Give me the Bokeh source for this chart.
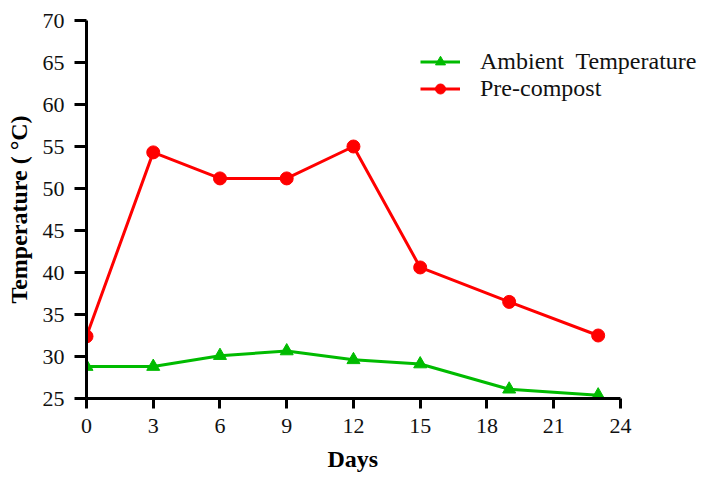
from bokeh.plotting import figure
from bokeh.models import Range1d, Legend, LegendItem, FixedTicker, Title
from bokeh.embed import file_html
from bokeh.resources import INLINE

days = [0, 3, 6, 9, 12, 15, 19, 23]
ambient = [28.8, 28.8, 30.1, 30.65, 29.6, 29.1, 26.1, 25.4]
precompost = [32.4, 54.3, 51.2, 51.2, 55.0, 40.6, 36.5, 32.5]
x_ticks = [0, 3, 6, 9, 12, 15, 18, 21, 24]
y_ticks = [25, 30, 35, 40, 45, 50, 55, 60, 65, 70]

FONT = "Liberation Serif"
GREEN = "#00bb00"
RED = "#ff0000"

# frame: px 86..704 horizontally (x=24 at px 620), 20..398 vertically
p = figure(width=704, height=479, output_backend="svg", toolbar_location=None,
           x_range=Range1d(0, 27.78), y_range=Range1d(25, 70),
           min_border_left=86, min_border_right=0, min_border_top=20, min_border_bottom=81)
p.outline_line_color = None
p.grid.grid_line_color = None
p.background_fill_color = "white"

for ax in (p.xaxis[0], p.yaxis[0]):
    ax.axis_line_width = 3
    ax.axis_line_color = "black"
    ax.major_tick_line_width = 3
    ax.major_tick_line_color = "black"
    ax.major_tick_in = 0
    ax.minor_tick_line_color = None
    ax.major_label_text_font = FONT
    ax.major_label_text_font_size = "22px"
    ax.major_label_text_color = "#111111"
    ax.axis_label_text_font = FONT
    ax.axis_label_text_font_style = "bold"
    ax.axis_label_text_font_size = "24px"
    ax.axis_label_text_color = "black"

p.xaxis.ticker = FixedTicker(ticks=x_ticks)
p.yaxis.ticker = FixedTicker(ticks=y_ticks)
p.xaxis.bounds = (0, 24)
p.xaxis.major_tick_out = 10
p.yaxis.major_tick_out = 12
p.xaxis.major_label_standoff = 10
p.yaxis.major_label_standoff = 10
p.yaxis.axis_label = "Temperature ( °C)"
p.yaxis.axis_label_standoff = 8

xlabel = Title(text="Days", align="left", offset=241, text_font=FONT,
               text_font_style="bold", text_font_size="24px", text_color="black",
               standoff=16)
p.add_layout(xlabel, "below")

l1 = p.line(days, ambient, line_color=GREEN, line_width=3)
m1 = p.scatter(days, ambient, marker="triangle", size=13, fill_color=GREEN, line_color=GREEN)
l2 = p.line(days, precompost, line_color=RED, line_width=3)
m2 = p.scatter(days, precompost, marker="circle", size=13, fill_color=RED, line_color=RED)

legend = Legend(items=[LegendItem(label="Ambient  Temperature", renderers=[l1, m1]),
                       LegendItem(label="Pre-compost", renderers=[l2, m2])],
                location=(334, 296), padding=0, margin=0, spacing=0,
                glyph_width=40, glyph_height=25, label_height=25, label_standoff=20,
                label_text_font=FONT, label_text_font_size="24px",
                label_text_color="#111111",
                border_line_alpha=0, background_fill_alpha=0)
p.add_layout(legend, "center")

open("out.html", "w").write(file_html(p, INLINE))
